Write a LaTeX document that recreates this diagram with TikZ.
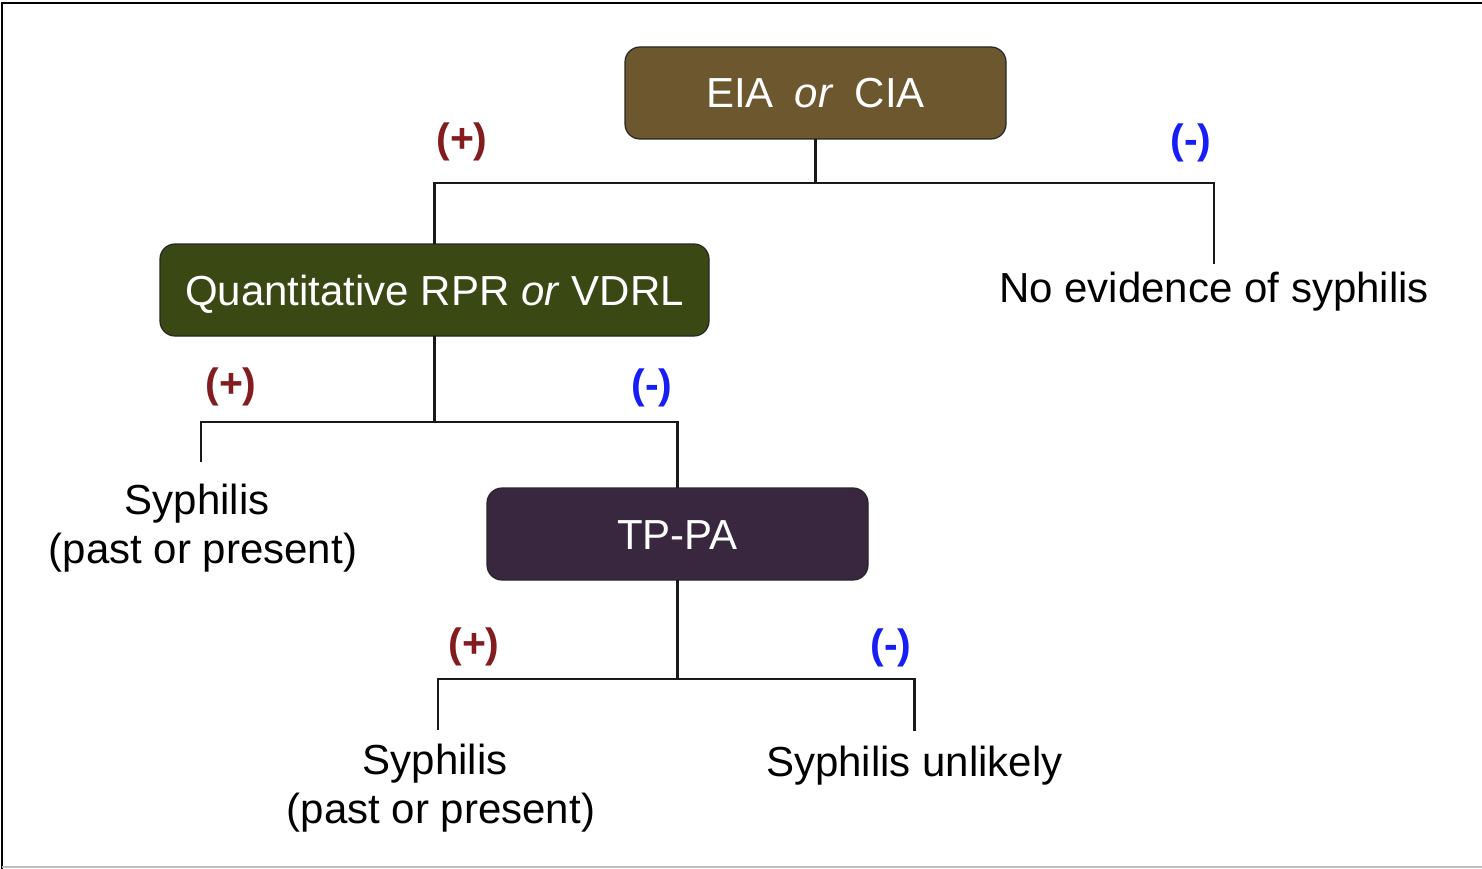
\documentclass[tikz,border=0pt]{standalone}
\usepackage{fontspec}
\setmainfont{Liberation Sans}
\definecolor{eiabrown}{RGB}{108,87,47}
\definecolor{rprgreen}{RGB}{58,72,20}
\definecolor{tppurple}{RGB}{56,39,62}
\definecolor{posred}{RGB}{130,28,30}
\definecolor{negblue}{RGB}{22,30,245}
\tikzset{
  testbox/.style = {rectangle, rounded corners=15pt, draw=black!85, line width=1.2pt,
                    fill=#1, text=white, minimum height=92pt,
                    inner sep=0pt, outer sep=0pt, text height=30pt, text depth=0pt,
                    font=\fontsize{42}{49}\selectfont},
  resultlbl/.style = {align=center, inner sep=0pt, outer sep=0pt,
                      font=\fontsize{42}{49}\selectfont},
  signlbl/.style = {text=#1, inner sep=0pt, font=\fontsize{41}{49}\selectfont\bfseries},
  branch/.style = {line width=2.2pt, black!90}
}

\begin{document}
\begin{tikzpicture}[x=1pt, y=-1pt]
	\useasboundingbox (0,0) rectangle (1482,869);

	% Frame
	\draw[line width=2.5pt] (2,869) -- (2,3) -- (1482,3);
	\draw[black!25, line width=1.5pt] (2,867) -- (1482,867);

	% Tests
	\node[testbox=eiabrown, minimum width=381pt] (eia) at (815.5,93) {EIA\hspace{0.5em}\textit{or}\hspace{0.5em}CIA};
	\node[testbox=rprgreen, minimum width=549pt] (rpr) at (434.5,290) {Quantitative RPR \textit{or} VDRL};
	\node[testbox=tppurple, minimum width=381pt] (tppa) at (677.5,534) {TP-PA};

	% Results
	\node[resultlbl, anchor=base] (noev) at (1214,302) {No evidence of syphilis};
	\node[resultlbl, anchor=north] (past1) at (203,484) {Syphilis\hspace*{12pt}\\(past or present)};
	\node[resultlbl, anchor=north] (past2) at (441,744) {Syphilis\hspace*{12pt}\\(past or present)};
	\node[resultlbl, anchor=base] (unlikely) at (914.5,776) {Syphilis unlikely};

	% Branches
	\coordinate (j1) at ([yshift=-44pt]eia.south);
	\draw[branch] (eia.south) -- (j1);
	\draw[branch] (j1) -| (rpr.north);
	\draw[branch, shorten >=8pt] (j1) -| (noev.north);

	\coordinate (j2) at ([yshift=-86pt]rpr.south);
	\draw[branch] (rpr.south) -- (j2);
	\draw[branch, shorten >=22pt] (j2) -| ([xshift=-2pt]past1.north);
	\draw[branch] (j2) -| (tppa.north);

	\coordinate (j3) at ([yshift=-99pt]tppa.south);
	\draw[branch] (tppa.south) -- (j3);
	\draw[branch, shorten >=14pt] (j3) -| ([xshift=-3pt]past2.north);
	\draw[branch, shorten >=15pt] (j3) -| (unlikely.north);

	% Signs
	\node[signlbl=posred] (pos1) at (462,142) {(+)};
	\node[signlbl=negblue] (neg1) at (1191,143) {(-)};
	\node[signlbl=posred] (pos2) at (231,387) {(+)};
	\node[signlbl=negblue] (neg2) at (652,388) {(-)};
	\node[signlbl=posred] (pos3) at (474,647) {(+)};
	\node[signlbl=negblue] (neg3) at (891,648) {(-)};

\end{tikzpicture}
\end{document}
